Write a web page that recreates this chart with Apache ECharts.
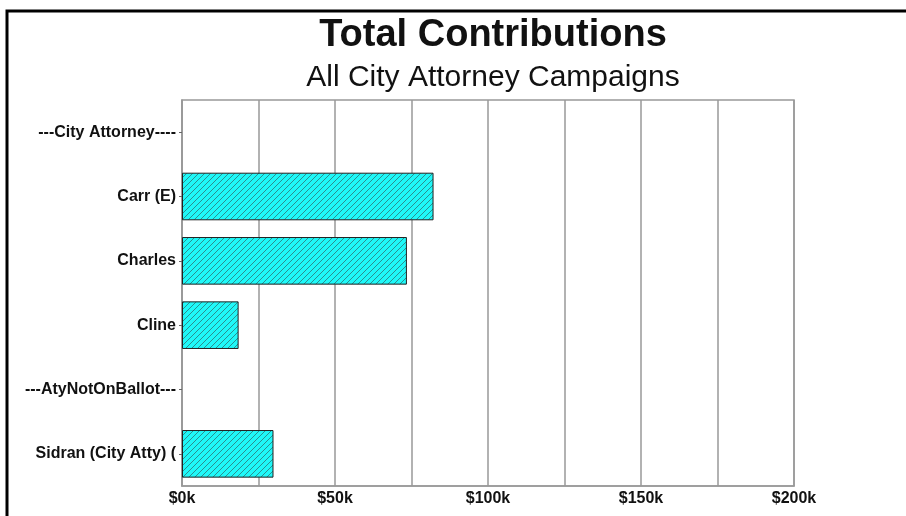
<!DOCTYPE html>
<html>
<head>
<meta charset="utf-8">
<style>
html,body{margin:0;padding:0;background:#fff;}
#chart{width:906px;height:516px;}
</style>
<script src="https://cdn.jsdelivr.net/npm/echarts@6/dist/echarts.min.js"></script>
</head>
<body>
<div id="chart"></div>
<script>
var categories = ['---City Attorney----', 'Carr (E)', 'Charles', 'Cline', '---AtyNotOnBallot---', 'Sidran (City Atty) ('];
var contributions = [null, 82.2, 73.5, 18.5, null, 29.9];
var tickValues = [0, 50, 100, 150, 200];

function hatchPattern() {
  var n = 6;
  var c = document.createElement('canvas');
  c.width = n; c.height = n;
  var ctx = c.getContext('2d');
  ctx.fillStyle = '#1ff8f8';
  ctx.fillRect(0, 0, n, n);
  ctx.fillStyle = '#2a9090';
  for (var x = 0; x < n; x++) {
    ctx.fillRect(x, n - 1 - x, 1, 1);
  }
  return c;
}

var chart = echarts.init(document.getElementById('chart'), null, {renderer: 'canvas'});
var font = '"Liberation Sans", Arial, Helvetica, sans-serif';
chart.setOption({
  animation: false,
  backgroundColor: '#fff',
  title: [
    {text: 'Total Contributions', left: 488, top: 12, textAlign: 'center',
     textStyle: {fontFamily: font, fontSize: 38, fontWeight: 'bold', color: '#111'}},
    {text: 'All City Attorney Campaigns', left: 488, top: 58, textAlign: 'center',
     textStyle: {fontFamily: font, fontSize: 30, fontWeight: 'normal', color: '#111'}}
  ],
  graphic: [
    {type: 'polyline', shape: {points: [[7, 516], [7, 11], [906, 11]]},
     style: {stroke: '#000', lineWidth: 3, fill: null}}
  ],
  grid: {left: 182, right: 112, top: 100, bottom: 30, show: true, borderColor: '#999', borderWidth: 1.5, backgroundColor: 'transparent'},
  xAxis: {
    type: 'value', min: 0, max: 200, interval: 25,
    axisLine: {show: true, lineStyle: {color: '#999', width: 1.5}},
    axisTick: {show: false},
    splitLine: {show: true, lineStyle: {color: '#999', width: 1.5}},
    axisLabel: {
      margin: 5,
      fontFamily: font, fontSize: 16, fontWeight: 'bold', color: '#111',
      formatter: function (v) { return tickValues.indexOf(v) >= 0 ? '$' + v + 'k' : ''; }
    }
  },
  yAxis: {
    type: 'category', data: categories, inverse: true,
    axisLine: {show: true, lineStyle: {color: '#999', width: 1.5}},
    axisTick: {show: true, alignWithLabel: true, length: 3, lineStyle: {color: '#666'}},
    splitLine: {show: false},
    axisLabel: {margin: 6, fontFamily: font, fontSize: 16, fontWeight: 'bold', color: '#111'}
  },
  series: [{
    type: 'bar',
    data: contributions,
    barCategoryGap: '26%',
    itemStyle: {
      color: {image: hatchPattern(), repeat: 'repeat'},
      borderColor: '#222', borderWidth: 1
    }
  }]
});
</script>
</body>
</html>
